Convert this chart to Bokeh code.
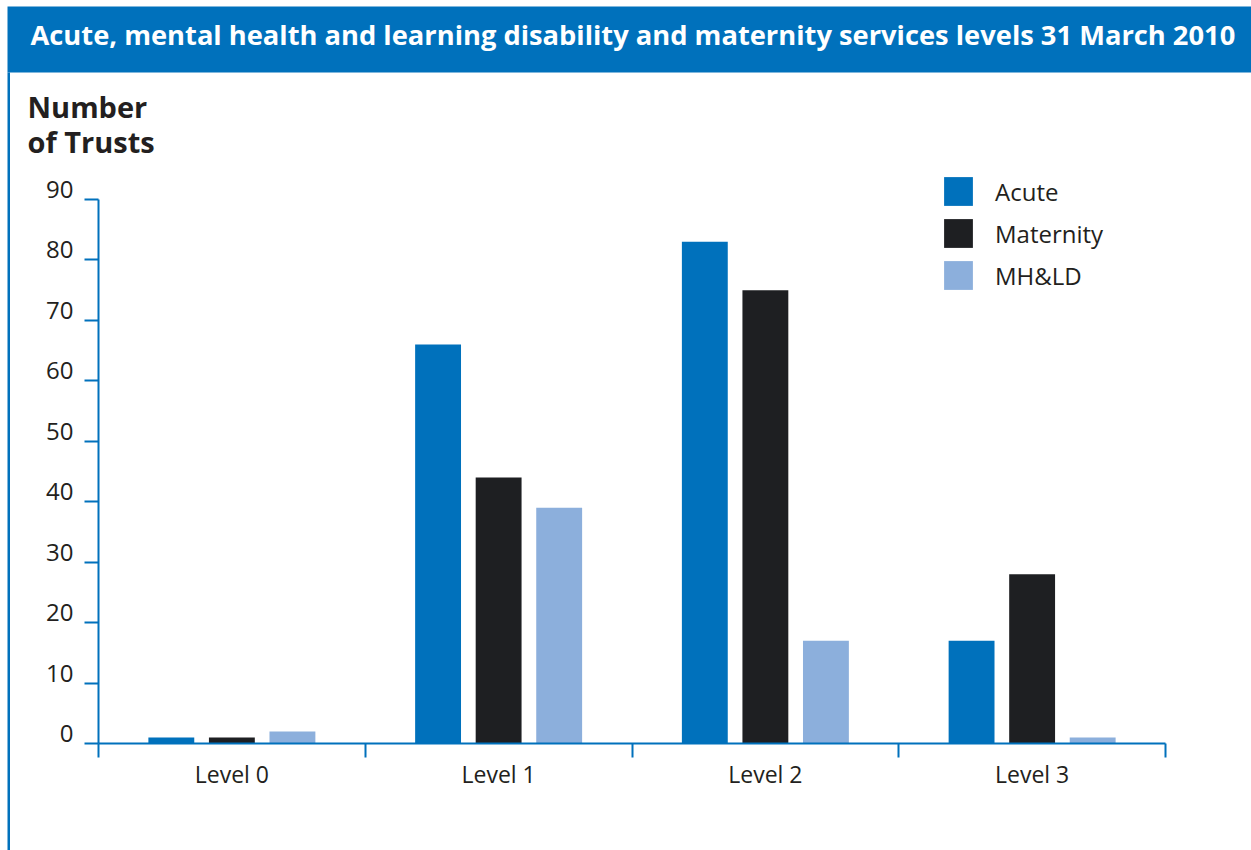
import numpy as np
from bokeh.plotting import figure
from bokeh.models import (Range1d, FixedTicker, LinearAxis, Legend, LegendItem,
                          Label, BoxAnnotation, ColumnDataSource)
from bokeh.core.properties import value
from bokeh.embed import file_html
from bokeh.resources import INLINE

# ---- data ----
levels = ["Level 0", "Level 1", "Level 2", "Level 3"]
series = ["Acute", "Maternity", "MH&LD"]
acute = [1, 66, 83, 17]
maternity = [1, 44, 75, 28]
mhld = [2, 39, 17, 1]
y_ticks = [0, 10, 20, 30, 40, 50, 60, 70, 80, 90]
y_tick_labels = ["0", "10", "20", "30", "40", "50", "60", "70", "80", "90"]
y_max = 90

colors = ["#0071bc", "#1e1f22", "#8cafdc"]
BLUE = "#0071bc"
TEXT = "#231f20"
FONT = "Open Sans"

# ---- layout (pixels on canvas) ----
W, H = 1251, 850
PL, PR, PT, PB = 98, 1165, 199, 743   # plot area: x axis span, y top (90) and bottom (0)
n = len(levels)
xs = (PR - PL) / n
ys = (PB - PT) / y_max
x_range = Range1d(-PL / xs, n + (W - PR) / xs)
y_range = Range1d(-(H - PB) / ys, y_max + PT / ys)

p = figure(width=W, height=H, output_backend="svg", toolbar_location=None,
           x_range=x_range, y_range=y_range,
           x_axis_type=None, y_axis_type=None,
           min_border=0, min_border_left=0, min_border_right=0,
           min_border_top=0, min_border_bottom=0)
p.outline_line_color = None
p.xgrid.visible = False
p.ygrid.visible = False
p.background_fill_color = "white"
p.border_fill_color = "white"

centers = np.arange(n) + 0.5
offsets = [-0.227, 0.0, 0.227]
bar_w = 0.172
renderers = []
for vals, off, col, name in zip([acute, maternity, mhld], offsets, colors, series):
    src = ColumnDataSource(dict(x=centers + off, top=vals))
    r = p.vbar(x="x", top="top", width=bar_w, bottom=0, source=src,
               fill_color=col, line_color=None)
    renderers.append((name, r))

# y axis (labels drawn as text so that they sit on the ticks, as in the original)
yax = LinearAxis(ticker=FixedTicker(ticks=y_ticks), bounds=(0, y_max), fixed_location=0)
yax.axis_line_color = BLUE
yax.axis_line_width = 2
yax.major_tick_line_color = BLUE
yax.major_tick_line_width = 2
yax.major_tick_out = 14
yax.major_tick_in = 0
yax.minor_tick_line_color = None
yax.major_label_overrides = {t: "" for t in y_ticks}
p.add_layout(yax, "left")

ysrc = ColumnDataSource(dict(x=[0] * len(y_ticks), y=y_ticks, t=y_tick_labels))
p.text(x="x", y="y", text="t", source=ysrc, x_offset=-25, y_offset=-10,
       text_align="right", text_baseline="alphabetic",
       text_font=value(FONT), text_font_size="24px", text_color=TEXT)

# x axis
bounds_ticks = [float(b) for b in range(n + 1)]
xax = LinearAxis(ticker=FixedTicker(ticks=list(centers), minor_ticks=bounds_ticks),
                 bounds=(0, n), fixed_location=0)
xax.major_label_overrides = {float(c): lab for c, lab in zip(centers, levels)}
xax.axis_line_color = BLUE
xax.axis_line_width = 2
xax.major_tick_line_color = None
xax.major_tick_out = 0
xax.major_tick_in = 0
xax.minor_tick_line_color = BLUE
xax.minor_tick_line_width = 2
xax.minor_tick_out = 14
xax.minor_tick_in = 0
xax.major_label_standoff = 0
xax.major_label_text_font = FONT
xax.major_label_text_font_size = "23px"
xax.major_label_text_color = TEXT
p.add_layout(xax, "below")

# legend
legend = Legend(items=[LegendItem(label=nm, renderers=[r]) for nm, r in renderers],
                location=(940, 557), glyph_width=36, glyph_height=36,
                spacing=6, label_standoff=19, padding=0, margin=0,
                border_line_color=None, background_fill_alpha=0,
                label_text_font=FONT, label_text_font_size="24px",
                label_text_color=TEXT)
p.add_layout(legend, "center")

# title bar and left border
p.add_layout(BoxAnnotation(left=7, right=W, top=6, bottom=72,
                           left_units="canvas", right_units="canvas",
                           top_units="canvas", bottom_units="canvas",
                           fill_color=BLUE, fill_alpha=1, line_alpha=0))
p.add_layout(BoxAnnotation(left=7, right=9.5, top=72, bottom=H,
                           left_units="canvas", right_units="canvas",
                           top_units="canvas", bottom_units="canvas",
                           fill_color=BLUE, fill_alpha=1, line_alpha=0))

p.add_layout(Label(x=30, y=34, x_units="canvas", y_units="canvas",
                   text="Acute, mental health and learning disability and maternity services levels 31 March 2010",
                   text_font=FONT, text_font_style="bold", text_font_size="27.3px",
                   text_color="white", text_baseline="alphabetic"))
p.add_layout(Label(x=27, y=106, x_units="canvas", y_units="canvas",
                   text="Number", text_font=FONT, text_font_style="bold",
                   text_font_size="29px", text_color=TEXT, text_baseline="alphabetic"))
p.add_layout(Label(x=27, y=141, x_units="canvas", y_units="canvas",
                   text="of Trusts", text_font=FONT, text_font_style="bold",
                   text_font_size="29px", text_color=TEXT, text_baseline="alphabetic"))

open("out.html", "w").write(file_html(p, INLINE))
